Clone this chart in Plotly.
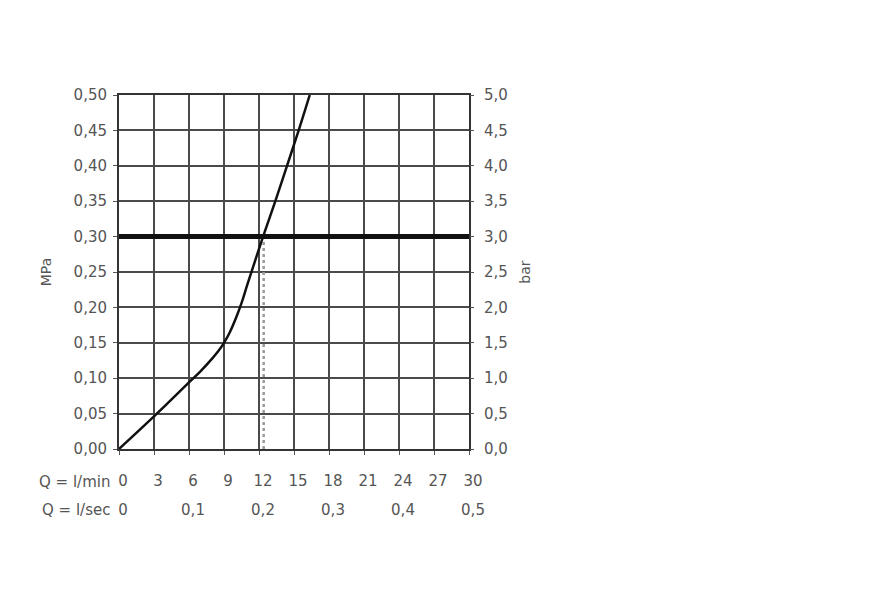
import plotly.graph_objects as go

# Flow rate (l/min) vs pressure (MPa) curve
flow_lpm = [0, 3, 6, 7, 8, 8.5, 9, 9.5, 10, 10.5, 11, 12.35, 13.4, 14.4, 15.4, 16.35]
pressure_mpa = [0, 0.046, 0.094, 0.11, 0.128, 0.138, 0.15, 0.165, 0.184, 0.206, 0.232, 0.30, 0.35, 0.40, 0.45, 0.50]

limit_pressure = 0.30
limit_flow = 12.4

lpm_ticks = [0, 3, 6, 9, 12, 15, 18, 21, 24, 27, 30]
lpm_labels = ["0", "3", "6", "9", "12", "15", "18", "21", "24", "27", "30"]
lps_ticks = [0, 6, 12, 18, 24, 30]
lps_labels = ["0", "0,1", "0,2", "0,3", "0,4", "0,5"]
mpa_ticks = [0, 0.05, 0.10, 0.15, 0.20, 0.25, 0.30, 0.35, 0.40, 0.45, 0.50]
mpa_labels = ["0,00", "0,05", "0,10", "0,15", "0,20", "0,25", "0,30", "0,35", "0,40", "0,45", "0,50"]
bar_ticks = [0, 0.5, 1.0, 1.5, 2.0, 2.5, 3.0, 3.5, 4.0, 4.5, 5.0]
bar_labels = ["0,0", "0,5", "1,0", "1,5", "2,0", "2,5", "3,0", "3,5", "4,0", "4,5", "5,0"]

FONT = dict(family="DejaVu Sans, sans-serif", size=15, color="#555555")
GRID = "#4a4a4a"

fig = go.Figure()

# dotted guide at the operating point
fig.add_trace(go.Scatter(x=[limit_flow, limit_flow], y=[0, limit_pressure], mode="lines",
                         line=dict(color="#9a9a9a", width=2.5, dash="dot"),
                         hoverinfo="skip", showlegend=False))
# thick limit line
fig.add_trace(go.Scatter(x=[0, 30], y=[limit_pressure, limit_pressure], mode="lines",
                         line=dict(color="#111111", width=5),
                         hoverinfo="skip", showlegend=False))
# curve
fig.add_trace(go.Scatter(x=flow_lpm, y=pressure_mpa, mode="lines",
                         line=dict(color="#111111", width=2.5, shape="spline", smoothing=1),
                         showlegend=False))
# invisible traces to activate secondary axes
fig.add_trace(go.Scatter(x=[0], y=[0], xaxis="x2", yaxis="y", mode="markers",
                         marker=dict(opacity=0), hoverinfo="skip", showlegend=False))
fig.add_trace(go.Scatter(x=[0], y=[0], xaxis="x", yaxis="y2", mode="markers",
                         marker=dict(opacity=0), hoverinfo="skip", showlegend=False))

fig.update_layout(
    width=880, height=600,
    margin=dict(l=111, r=419, t=87, b=159),
    paper_bgcolor="white", plot_bgcolor="white",
    font=FONT,
    xaxis=dict(range=[0, 30], tickvals=lpm_ticks, ticktext=lpm_labels,
               showgrid=True, gridcolor=GRID, gridwidth=2.2,
               showline=True, linecolor="#333333", linewidth=2, mirror=True,
               ticks="outside", ticklen=4, tickcolor="#555555",
               ticklabelstandoff=13, ticklabelshift=4, zeroline=False, fixedrange=True),
    xaxis2=dict(range=[0, 30], overlaying="x", side="bottom", anchor="y",
                tickvals=lps_ticks, ticktext=lps_labels, showgrid=False,
                ticks="", showline=False, ticklabelstandoff=50, ticklabelshift=4,
                zeroline=False),
    yaxis=dict(range=[0, 0.5], tickvals=mpa_ticks, ticktext=mpa_labels,
               showgrid=True, gridcolor=GRID, gridwidth=2.2,
               showline=True, linecolor="#333333", linewidth=2, mirror=True,
               ticks="outside", ticklen=4, tickcolor="#555555", zeroline=False,
               ticklabelstandoff=3,
               title=dict(text="MPa", standoff=19, font=dict(size=14))),
    yaxis2=dict(range=[0, 5], overlaying="y", side="right", anchor="x",
                tickvals=bar_ticks, ticktext=bar_labels, showgrid=False,
                ticks="outside", ticklen=4, tickcolor="#555555", showline=False,
                ticklabelstandoff=7, zeroline=False,
                title=dict(text="bar", standoff=13, font=dict(size=14))),
    annotations=[
        dict(text="Q = l/min", xref="paper", yref="paper", x=0, y=0,
             xanchor="right", yanchor="middle", xshift=-7, yshift=-33,
             showarrow=False, font=FONT),
        dict(text="Q = l/sec", xref="paper", yref="paper", x=0, y=0,
             xanchor="right", yanchor="middle", xshift=-7, yshift=-61,
             showarrow=False, font=FONT),
    ],
)

fig.write_html("out.html")
